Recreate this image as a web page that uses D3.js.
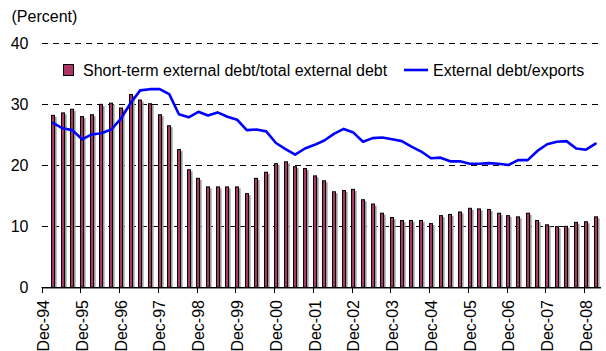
<!DOCTYPE html>
<html>
<head>
<meta charset="utf-8">
<script src="https://cdn.jsdelivr.net/npm/d3@7"></script>
<style>
  html, body { margin: 0; padding: 0; background: #fff; }
  svg { display: block; font-family: "Liberation Sans", Arial, sans-serif; }
</style>
</head>
<body>
<svg id="chart" width="606" height="351"></svg>
<script>
// ---- Data ----
const seriesNames = ["Short-term external debt/total external debt", "External debt/exports"];
const yTicks = [0, 10, 20, 30, 40];
const tickLabels = ["Dec-94","Dec-95","Dec-96","Dec-97","Dec-98","Dec-99","Dec-00","Dec-01",
                    "Dec-02","Dec-03","Dec-04","Dec-05","Dec-06","Dec-07","Dec-08"];
// short-term external debt / total external debt (bars), quarterly
const shortTermShare = [28.2,28.6,29.2,28.0,28.3,30.0,30.2,29.4,31.6,30.7,30.1,28.3,26.5,22.6,19.3,
  17.9,16.5,16.5,16.5,16.5,15.4,17.9,18.9,20.3,20.6,19.8,19.5,18.3,17.5,15.7,
  15.9,16.1,14.4,13.7,12.2,11.5,11.0,11.0,11.0,10.5,11.8,12.0,12.4,13.0,12.9,
  12.8,12.2,11.8,11.6,12.2,11.0,10.3,10.0,10.05,10.7,10.8,11.6];
// external debt / exports (line), quarterly
const debtToExports = [26.9,26.0,25.7,24.2,25.0,25.2,25.8,27.6,30.1,32.2,32.4,32.4,31.6,28.3,27.8,
  28.7,28.1,28.6,27.9,27.4,25.7,25.8,25.5,23.6,22.6,21.7,22.7,23.3,24.0,25.1,
  25.9,25.3,23.8,24.4,24.5,24.2,23.9,23.0,22.2,21.1,21.2,20.6,20.6,20.2,20.2,
  20.3,20.2,20.0,20.8,20.8,22.3,23.4,23.8,23.9,22.7,22.5,23.5];
// quarter-end dates (Mar-95 ... Mar-09)
const quarterEnds = d3.range(shortTermShare.length).map(i => new Date(1995, 3 * i + 3, 0));
const tickDates = tickLabels.map((l, k) => new Date(1994 + k, 11, 15));

// ---- Layout ----
const svg = d3.select("#chart");
const plotLeft = 42, plotRight = 601;
const x = d3.scaleTime()
  .domain([tickDates[0], tickDates[tickDates.length - 1]])
  .range([41.7, 584.3]);
const y = d3.scaleLinear().domain([0, 40]).range([287.3, 42.7]);

const barColor = "#ad3565";
const lineColor = "#0000ff";

// (Percent)
svg.append("text").attr("x", 11.5).attr("y", 21.5)
  .attr("font-size", 16).attr("fill", "#000").text("(Percent)");

// gridlines
svg.append("g").selectAll("line")
  .data(yTicks.filter(d => d > 0))
  .join("line")
  .attr("x1", plotLeft).attr("x2", plotRight)
  .attr("y1", d => Math.round(y(d)) + 0.5).attr("y2", d => Math.round(y(d)) + 0.5)
  .attr("stroke", "#000").attr("stroke-width", 1)
  .attr("stroke-dasharray", "6,5");

// y tick labels
svg.append("g").selectAll("text")
  .data(yTicks)
  .join("text")
  .attr("x", 28.5).attr("y", d => y(d) + 5.8)
  .attr("text-anchor", "end").attr("font-size", 16).attr("fill", "#000")
  .text(d => d);

// bars (shadow + bar)
const barG = svg.append("g");
barG.selectAll("rect.shadow")
  .data(shortTermShare)
  .join("rect").attr("class", "shadow")
  .attr("x", (d, i) => Math.round(x(quarterEnds[i])) + 2)
  .attr("y", d => y(d) + 2)
  .attr("width", 1.6)
  .attr("height", d => y(0) - y(d) - 2)
  .attr("fill", "#9a9a9a");
barG.selectAll("rect.bar")
  .data(shortTermShare)
  .join("rect").attr("class", "bar")
  .attr("x", (d, i) => Math.round(x(quarterEnds[i])) - 2 + 0.5)
  .attr("y", d => y(d) + 0.5)
  .attr("width", 3)
  .attr("height", d => y(0) - y(d) - 0.5)
  .attr("fill", barColor)
  .attr("stroke", "#000").attr("stroke-width", 1);

// x axis line
svg.append("line")
  .attr("x1", plotLeft - 0.5).attr("x2", plotRight)
  .attr("y1", 287.5).attr("y2", 287.5)
  .attr("stroke", "#000").attr("stroke-width", 1);
svg.append("line")
  .attr("x1", plotLeft).attr("x2", plotRight)
  .attr("y1", 288.5).attr("y2", 288.5)
  .attr("stroke", "#8a8a8a").attr("stroke-width", 1);

// x ticks
svg.append("g").selectAll("line")
  .data(tickDates)
  .join("line")
  .attr("x1", d => Math.round(x(d)) + 0.5).attr("x2", d => Math.round(x(d)) + 0.5)
  .attr("y1", 287).attr("y2", 293)
  .attr("stroke", "#000").attr("stroke-width", 1);

// x tick labels
svg.append("g").selectAll("text")
  .data(tickDates)
  .join("text")
  .attr("transform", d => `translate(${x(d) + 7.5},300) rotate(-90)`)
  .attr("text-anchor", "end").attr("font-size", 16).attr("fill", "#000")
  .text((d, i) => tickLabels[i]);

// line
const line = d3.line()
  .x((d, i) => x(quarterEnds[i]))
  .y(d => y(d));
svg.append("path")
  .datum(debtToExports)
  .attr("d", line)
  .attr("fill", "none")
  .attr("stroke", lineColor).attr("stroke-width", 2.6)
  .attr("stroke-linejoin", "round").attr("stroke-linecap", "round");

// legend
const lg = svg.append("g");
lg.append("rect").attr("x", 63.5).attr("y", 64.5).attr("width", 10).attr("height", 11)
  .attr("fill", barColor).attr("stroke", "#000").attr("stroke-width", 1);
lg.append("text").attr("x", 83).attr("y", 75.5).attr("font-size", 16).attr("fill", "#000")
  .text(seriesNames[0]);
lg.append("line").attr("x1", 404).attr("x2", 428).attr("y1", 70).attr("y2", 70)
  .attr("stroke", lineColor).attr("stroke-width", 2.6);
lg.append("text").attr("x", 433).attr("y", 75.5).attr("font-size", 16).attr("fill", "#000")
  .text(seriesNames[1]);
</script>
</body>
</html>
